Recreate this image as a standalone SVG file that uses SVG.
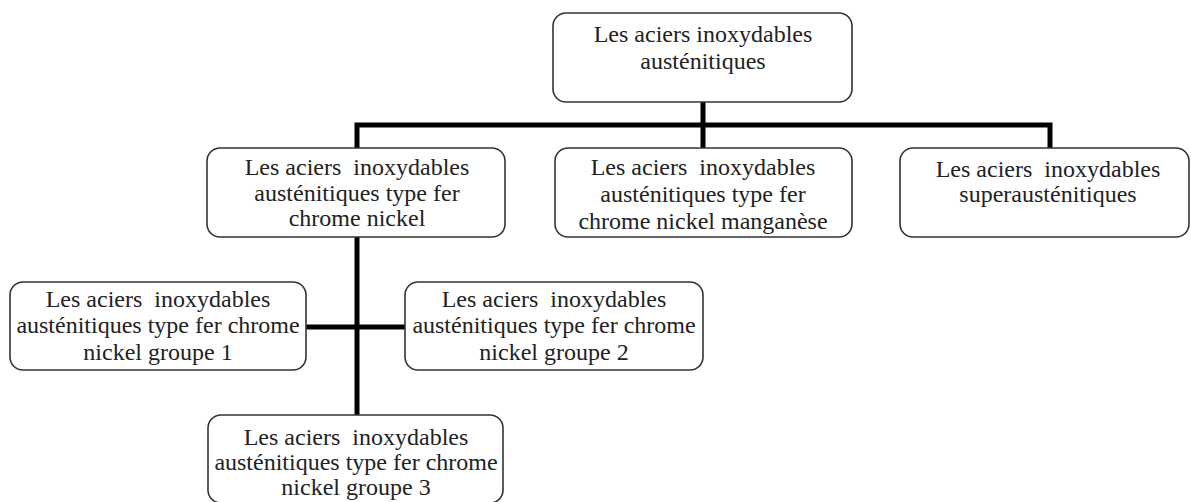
<svg xmlns="http://www.w3.org/2000/svg" width="1191" height="502" viewBox="0 0 1191 502">
<style>
.box{fill:#fff;stroke:#333;stroke-width:1.6}
.t{font-family:"Liberation Serif","Times New Roman",serif;font-size:24px;fill:#222;text-anchor:middle}
.c{stroke:#000;stroke-width:5;fill:none}
</style>
<rect width="1191" height="502" fill="#fff"/>
<g id="connectors">
<path class="c" d="M703,102 V125 M357,148 V125 H1050 V148 M703,125 V148 M357,237 V415 M306,327 H405"/>
</g>
<g id="root">
<rect class="box" x="553" y="13" width="299" height="89" rx="13"/>
<text class="t" x="703" y="42">Les aciers inoxydables</text>
<text class="t" x="703" y="69">austénitiques</text>
</g>
<g id="n1">
<rect class="box" x="207" y="148" width="298" height="89" rx="13"/>
<text class="t" x="357" y="175" xml:space="preserve">Les aciers  inoxydables</text>
<text class="t" x="357" y="201">austénitiques type fer</text>
<text class="t" x="357" y="226">chrome nickel</text>
</g>
<g id="n2">
<rect class="box" x="555" y="148" width="297" height="89" rx="13"/>
<text class="t" x="703" y="175" xml:space="preserve">Les aciers  inoxydables</text>
<text class="t" x="703" y="202">austénitiques type fer</text>
<text class="t" x="703" y="229">chrome nickel manganèse</text>
</g>
<g id="n3">
<rect class="box" x="900" y="148" width="289" height="89" rx="13"/>
<text class="t" x="1048" y="177" xml:space="preserve">Les aciers  inoxydables</text>
<text class="t" x="1048" y="202">superausténitiques</text>
</g>
<g id="g1">
<rect class="box" x="10" y="282" width="296" height="88" rx="13"/>
<text class="t" x="158" y="307" xml:space="preserve">Les aciers  inoxydables</text>
<text class="t" x="158" y="333">austénitiques type fer chrome</text>
<text class="t" x="158" y="360">nickel groupe 1</text>
</g>
<g id="g2">
<rect class="box" x="405" y="282" width="298" height="88" rx="13"/>
<text class="t" x="554" y="307" xml:space="preserve">Les aciers  inoxydables</text>
<text class="t" x="554" y="333">austénitiques type fer chrome</text>
<text class="t" x="554" y="360">nickel groupe 2</text>
</g>
<g id="g3">
<rect class="box" x="208" y="415" width="295" height="88" rx="13"/>
<text class="t" x="356" y="445" xml:space="preserve">Les aciers  inoxydables</text>
<text class="t" x="356" y="470">austénitiques type fer chrome</text>
<text class="t" x="356" y="495">nickel groupe 3</text>
</g>
</svg>
